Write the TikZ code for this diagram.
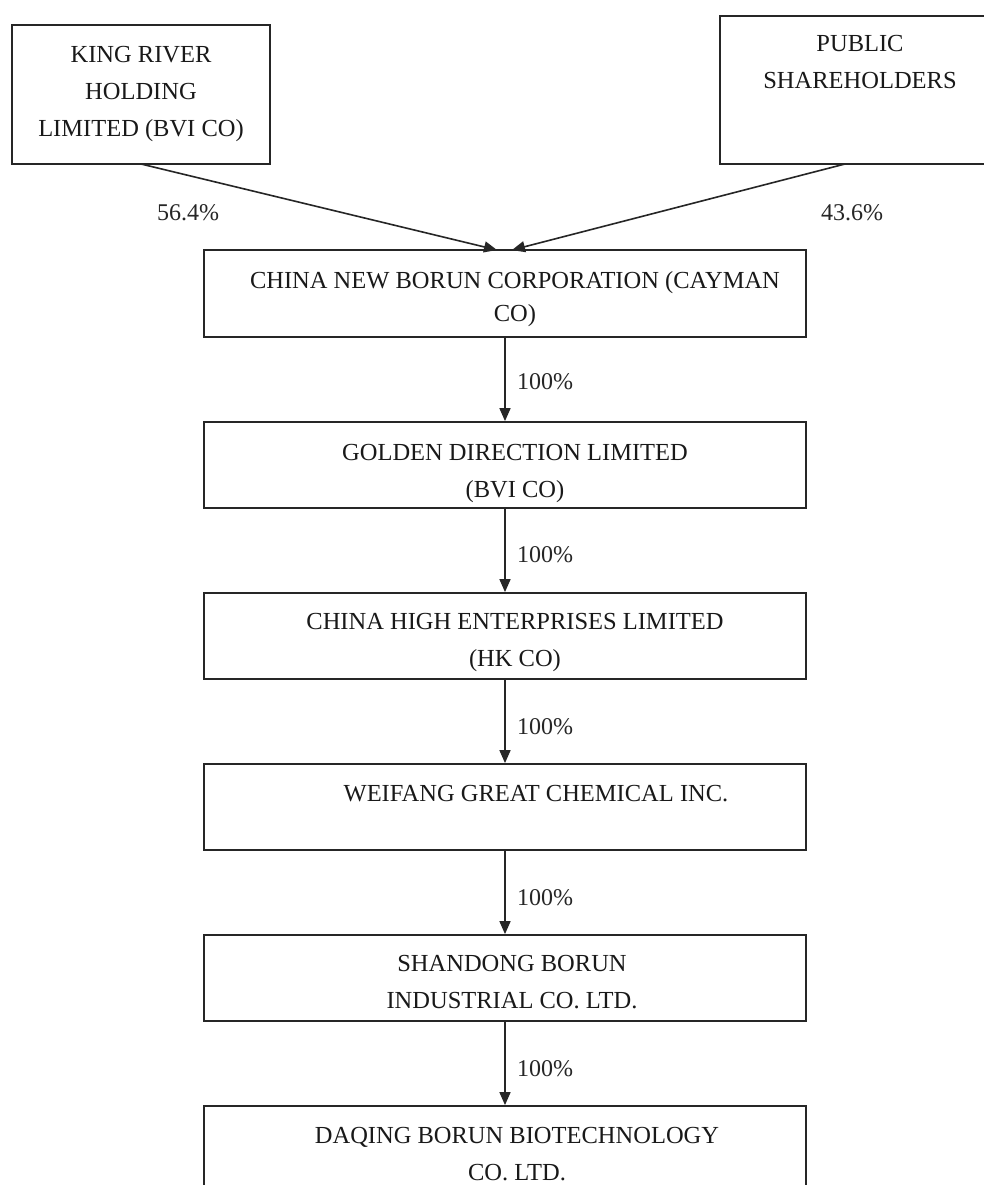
\documentclass[tikz,border=0pt]{standalone}
\usepackage{fontspec}
\setmainfont{Liberation Serif}
\usetikzlibrary{arrows.meta}
\begin{document}
\begin{tikzpicture}[x=1pt,y=-1pt,
  box/.style={draw=black!85, line width=1.8pt, fill=none, inner sep=0pt},
  txt/.style={inner sep=0pt, align=center, text=black!90, font=\fontsize{24.5}{37}\selectfont, anchor=base},
  pct/.style={inner sep=0pt, text=black!85, font=\fontsize{24}{28}\selectfont},
  conn/.style={draw=black!85, line width=1.6pt, -{Triangle[length=13pt,width=11pt]}}
]
\useasboundingbox (0,0) rectangle (984,1185);
\fill[white] (0,0) rectangle (984,1185);

% boxes
\node[box, minimum width=258pt, minimum height=139pt] (king) at (141,94.5) {};
\node[box, minimum width=280pt, minimum height=148pt] (public) at (860,90) {};
\node[box, minimum width=602pt, minimum height=87pt] (cnb) at (505,293.5) {};
\node[box, minimum width=602pt, minimum height=86pt] (gdl) at (505,465) {};
\node[box, minimum width=602pt, minimum height=86pt] (che) at (505,636) {};
\node[box, minimum width=602pt, minimum height=86pt] (wgc) at (505,807) {};
\node[box, minimum width=602pt, minimum height=86pt] (sbi) at (505,978) {};
\node[box, minimum width=602pt, minimum height=86pt] (dbb) at (505,1149) {};

% texts (anchor base = baseline of the last line)
\node[txt] (kingtxt) at (141,137) {KING RIVER\\HOLDING\\LIMITED (BVI CO)};
\node[txt] (publictxt) at (860,89) {PUBLIC\\SHAREHOLDERS};
\node[txt, font=\fontsize{24.5}{33}\selectfont] (cnbtxt) at (515,321) {CHINA NEW BORUN CORPORATION (CAYMAN\\CO)};
\node[txt] (gdltxt) at (515,497) {GOLDEN DIRECTION LIMITED\\(BVI CO)};
\node[txt] (chetxt) at (515,666) {CHINA HIGH ENTERPRISES LIMITED\\(HK CO)};
\node[txt] (wgctxt) at (536,801) {WEIFANG GREAT CHEMICAL INC.};
\node[txt] (sbitxt) at (512,1008) {SHANDONG BORUN\\INDUSTRIAL CO. LTD.};
\node[txt] (dbbtxt) at (517,1180) {DAQING BORUN BIOTECHNOLOGY\\CO. LTD.};

% anchors for arrow ends
\coordinate (kingout) at (141,164);
\coordinate (pubout) at (845,164);
\coordinate (cnbinL) at (497,250);
\coordinate (cnbinR) at (512,250);

% connectors
\draw[conn] (kingout) -- (cnbinL);
\draw[conn] (pubout) -- (cnbinR);
\draw[conn] (cnb.south) -- (gdl.north);
\draw[conn] (gdl.south) -- (che.north);
\draw[conn] (che.south) -- (wgc.north);
\draw[conn] (wgc.south) -- (sbi.north);
\draw[conn] (sbi.south) -- (dbb.north);

% percentages
\node[pct] (p1) at (188,213) {56.4\%};
\node[pct] (p2) at (852,213) {43.6\%};
\node[pct] (p3) at (545,382) {100\%};
\node[pct] (p4) at (545,555) {100\%};
\node[pct] (p5) at (545,727) {100\%};
\node[pct] (p6) at (545,898) {100\%};
\node[pct] (p7) at (545,1069) {100\%};
\end{tikzpicture}
\end{document}
